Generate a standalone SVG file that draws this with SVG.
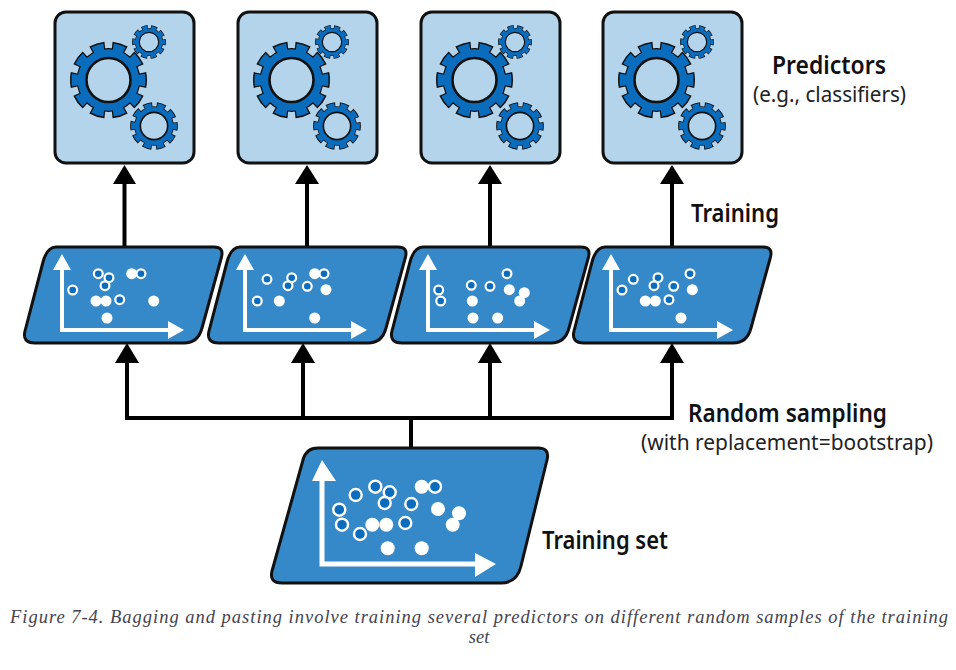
<svg xmlns="http://www.w3.org/2000/svg" xmlns:xlink="http://www.w3.org/1999/xlink" width="956" height="670" viewBox="0 0 956 670">
<style>
.box{fill:#b3d4ea;stroke:#111;stroke-width:3}
.sample{fill:#3689c9;stroke:#111;stroke-width:3;stroke-linejoin:round}
.axis{fill:none;stroke:#fff;stroke-width:4}
.head{fill:#fff}
.o{fill:#0a6cbd;stroke:#fff;stroke-width:2.2;r:4.4px}
.f{fill:#fff;r:5.5px}
.big .o{stroke-width:2.4;r:6px}
.big .f{r:7px}
.big .axis{stroke-width:5}
.conn{fill:none;stroke:#000;stroke-width:4}
.tip{fill:#000}
.lbl{font-family:"Noto Sans","Liberation Sans",sans-serif;fill:#111}
.hd{font-size:26px;font-weight:600}
.sub{font-size:21.500px;fill:#222}
.cap{font-family:"Liberation Serif","DejaVu Serif",serif;font-style:italic;font-size:18.5px;fill:#444450}
</style>
<defs>
<g id="gear">
<circle r="33.5" fill="none" stroke="#111" stroke-width="10" pathLength="100" stroke-dasharray="6.6 3.4" stroke-dashoffset="3.3"/>
<circle r="32" fill="#111"/>
<circle r="33" fill="none" stroke="#0a6cbd" stroke-width="8" pathLength="100" stroke-dasharray="5.4 4.6" stroke-dashoffset="2.7"/>
<circle r="30.8" fill="#0a6cbd"/>
<circle r="22" fill="#b3d4ea" stroke="#111" stroke-width="2.6"/>
</g>
<g id="gears">
<use xlink:href="#gear" href="#gear" transform="translate(53.500,80)"/>
<use xlink:href="#gear" href="#gear" transform="translate(94,42) scale(.44)"/>
<use xlink:href="#gear" href="#gear" transform="translate(99,126) scale(.62)"/>
</g>
<g id="axes1">
<path class="axis" d="M62 268V330H170"/>
<path class="head" d="M62 254L71 270H53Z"/>
<path class="head" d="M184 330L168 321V339Z"/>
</g>
<path id="para" class="sample" d="M56 247H214Q224 247 221.500 257L202 328Q198 343 184 343H35Q22 343 25 331L43 262Q47 247 56 247Z"/>
</defs>
<rect width="956" height="670" fill="#fff"/>
<g id="connectors">
<path class="conn" d="M124.500 247V180M307 247V180M490 247V180M672 247V180"/>
<path class="tip" d="M124.500 165L136 184H113Z"/>
<path class="tip" d="M307 165L319 184H295Z"/>
<path class="tip" d="M490 165L502 184H478Z"/>
<path class="tip" d="M672 165L684 184H660Z"/>
<path class="conn" d="M411 448V418M127 360V418H672V360M303 418V360M490 418V360"/>
<path class="tip" d="M127 343L139 363H115Z"/>
<path class="tip" d="M303 343L315 363H291Z"/>
<path class="tip" d="M490 343L502 363H478Z"/>
<path class="tip" d="M672 343L684 363H660Z"/>
</g>
<g id="predictor1"><rect class="box" x="55" y="12" width="139" height="151" rx="11"/><use xlink:href="#gears" href="#gears" x="55"/></g>
<g id="predictor2"><rect class="box" x="238" y="12" width="139" height="151" rx="11"/><use xlink:href="#gears" href="#gears" x="238"/></g>
<g id="predictor3"><rect class="box" x="421" y="12" width="139" height="151" rx="11"/><use xlink:href="#gears" href="#gears" x="421"/></g>
<g id="predictor4"><rect class="box" x="603" y="12" width="139" height="151" rx="11"/><use xlink:href="#gears" href="#gears" x="603"/></g>
<g id="sample1">
<use xlink:href="#para" href="#para"/><use xlink:href="#axes1" href="#axes1"/>
<circle class="o" cx="98.300" cy="273.700"/><circle class="o" cx="109" cy="277.700"/><circle class="o" cx="105" cy="285.700"/><circle class="o" cx="72.700" cy="290"/><circle class="f" cx="131.700" cy="273.700"/><circle class="o" cx="141" cy="273.700"/><circle class="o" cx="119.700" cy="299.700"/><circle class="f" cx="96" cy="301"/><circle class="f" cx="106" cy="301"/><circle class="f" cx="153.700" cy="301"/><circle class="f" cx="107" cy="318"/>
</g>
<g id="sample2">
<use xlink:href="#para" href="#para" x="184"/><use xlink:href="#axes1" href="#axes1" x="183"/>
<circle class="o" cx="267" cy="279.300"/><circle class="o" cx="291.700" cy="277.700"/><circle class="o" cx="288" cy="285.700"/><circle class="o" cx="307.300" cy="286.300"/><circle class="f" cx="314.700" cy="273.700"/><circle class="o" cx="324" cy="273.700"/><circle class="o" cx="257.300" cy="301"/><circle class="f" cx="326" cy="289.700"/><circle class="f" cx="279.300" cy="301"/><circle class="f" cx="314.700" cy="318"/>
</g>
<g id="sample3">
<use xlink:href="#para" href="#para" x="367"/><use xlink:href="#axes1" href="#axes1" x="366"/>
<circle class="o" cx="438.700" cy="290"/><circle class="o" cx="440.700" cy="301"/><circle class="o" cx="471.300" cy="285.300"/><circle class="o" cx="490" cy="286.300"/><circle class="o" cx="507" cy="273.700"/><circle class="f" cx="509.300" cy="289.700"/><circle class="f" cx="524.300" cy="292.700"/><circle class="f" cx="519.700" cy="301"/><circle class="f" cx="472.300" cy="301"/><circle class="f" cx="473" cy="318"/><circle class="f" cx="497.700" cy="318"/>
</g>
<g id="sample4">
<use xlink:href="#para" href="#para" x="549"/><use xlink:href="#axes1" href="#axes1" x="549"/>
<circle class="o" cx="622" cy="290"/><circle class="o" cx="633.300" cy="279.300"/><circle class="o" cx="658" cy="277.700"/><circle class="o" cx="654" cy="285.700"/><circle class="o" cx="673.700" cy="286.300"/><circle class="o" cx="690" cy="273.700"/><circle class="o" cx="669" cy="299.700"/><circle class="f" cx="692.300" cy="289.700"/><circle class="f" cx="645.300" cy="301"/><circle class="f" cx="655.300" cy="301"/><circle class="f" cx="681" cy="318"/>
</g>
<g id="training-set" class="big">
<path class="sample" d="M318 448H538Q550 448 547 460L521 566Q517 583 501 583H282Q269 583 272 571L303 460Q306 448 318 448Z"/>
<path class="axis" d="M322 478V564H478"/>
<path class="head" d="M322 460L336 481H312Z"/>
<path class="head" d="M496 564L475 553V577Z"/>
<circle class="f" cx="421.700" cy="486.700"/><circle class="f" cx="438" cy="509"/><circle class="f" cx="459" cy="513.300"/><circle class="f" cx="452.700" cy="524.700"/><circle class="f" cx="372.300" cy="524.700"/><circle class="f" cx="386.300" cy="524.700"/><circle class="f" cx="387.700" cy="548.300"/><circle class="f" cx="421.700" cy="548.300"/>
<circle class="o" cx="355.700" cy="495"/><circle class="o" cx="375.300" cy="486.700"/><circle class="o" cx="389.700" cy="492.300"/><circle class="o" cx="384.700" cy="503"/><circle class="o" cx="411.300" cy="504"/><circle class="o" cx="435" cy="486.700"/><circle class="o" cx="339.300" cy="509.700"/><circle class="o" cx="342" cy="524.700"/><circle class="o" cx="360" cy="534"/><circle class="o" cx="405.300" cy="523"/>
</g>
<g id="labels">
<text class="lbl hd" x="772" y="74" textLength="114" lengthAdjust="spacingAndGlyphs">Predictors</text>
<text class="lbl sub" x="753" y="102" textLength="153" lengthAdjust="spacingAndGlyphs">(e.g., classifiers)</text>
<text class="lbl hd" x="691" y="222" textLength="88" lengthAdjust="spacingAndGlyphs">Training</text>
<text class="lbl hd" x="688" y="422" textLength="199" lengthAdjust="spacingAndGlyphs">Random sampling</text>
<text class="lbl sub" x="641" y="450" textLength="292" lengthAdjust="spacingAndGlyphs">(with replacement=bootstrap)</text>
<text class="lbl hd" x="542" y="549" textLength="126" lengthAdjust="spacingAndGlyphs">Training set</text>
</g>
<g id="caption">
<text class="cap" x="479" y="623" text-anchor="middle" textLength="938" lengthAdjust="spacing">Figure 7-4. Bagging and pasting involve training several predictors on different random samples of the training</text>
<text class="cap" x="479" y="643" text-anchor="middle">set</text>
</g>
</svg>
